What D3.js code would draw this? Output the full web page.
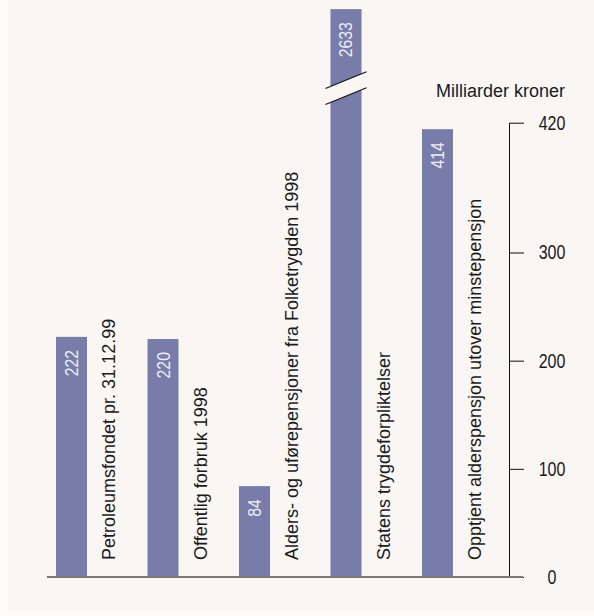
<!DOCTYPE html>
<html>
<head>
<meta charset="utf-8">
<script src="https://cdn.jsdelivr.net/npm/d3@7"></script>
<style>
  html, body { margin: 0; padding: 0; background: #fcfbfa; }
  svg { display: block; }
  .cat { font-family: "Liberation Sans", Arial, sans-serif; font-size: 18px; fill: #1b1b1b; }
  .val { font-family: "Liberation Sans", Arial, sans-serif; font-size: 18px; fill: #eceef5; }
  .tick text { font-family: "Liberation Sans", Arial, sans-serif; font-size: 20px; fill: #1b1b1b; }
  .unit { font-family: "Liberation Sans", Arial, sans-serif; font-size: 18px; fill: #1b1b1b; }
</style>
</head>
<body>
<svg id="chart" width="594" height="616"></svg>
<script>
// Billions of NOK: oil fund vs. public spending and pension obligations
const categories = [
  "Petroleumsfondet pr. 31.12.99",
  "Offentlig forbruk 1998",
  "Alders- og uførepensjoner fra Folketrygden 1998",
  "Statens trygdeforpliktelser",
  "Opptjent alderspensjon utover minstepensjon"
];
const values = [222, 220, 84, 2633, 414];
const tickValues = [0, 100, 200, 300, 420];
const unitLabel = "Milliarder kroner";

// values above this are drawn cut off, with a break marked at breakAt
const clipValue = 525;
const breakAt = 452;

const svg = d3.select("#chart");
const barColor = "#777ca8";
const panelColor = "#f9f6f3";

svg.append("rect")
  .attr("x", 8).attr("y", 0)
  .attr("width", 586).attr("height", 610)
  .attr("fill", panelColor);

const y = d3.scaleLinear().domain([0, 420]).range([577, 122.7]);
const x = d3.scaleBand().domain(categories).range([56, 453])
  .paddingInner(0.661).paddingOuter(0);
const bw = x.bandwidth();

// bars
svg.append("g").selectAll("rect")
  .data(values)
  .join("rect")
  .attr("x", (d, i) => x(categories[i]))
  .attr("y", d => y(Math.min(d, clipValue)))
  .attr("width", bw)
  .attr("height", d => y(0) - y(Math.min(d, clipValue)))
  .attr("fill", barColor);

// break marker on bars that exceed the axis
const broken = values.map((d, i) => ({ d, i })).filter(o => o.d > 420);
const slope = -0.405, half = 8, ext = 20.5;
broken.forEach(o => {
  const cx = x(categories[o.i]) + bw / 2;
  const yb = y(breakAt);
  const g = svg.append("g");
  g.append("path")
    .attr("d", `M${cx - ext},${yb - half - slope * ext} L${cx + ext},${yb - half + slope * ext} L${cx + ext},${yb + half + slope * ext} L${cx - ext},${yb + half - slope * ext} Z`)
    .attr("fill", panelColor);
  [-half, half].forEach(off => {
    g.append("line")
      .attr("x1", cx - ext).attr("y1", yb + off - slope * ext)
      .attr("x2", cx + ext).attr("y2", yb + off + slope * ext)
      .attr("stroke", "#111").attr("stroke-width", 1.1);
  });
});

// value labels inside bars (condensed along the reading direction)
svg.append("g").selectAll("text")
  .data(values)
  .join("text")
  .attr("class", "val")
  .attr("text-anchor", "end")
  .attr("transform", (d, i) =>
    `translate(${x(categories[i]) + bw / 2 + 6.5},${y(Math.min(d, clipValue)) + 13}) rotate(-90) scale(0.88,1)`)
  .text(d => d);

// category labels beside bars
svg.append("g").selectAll("text")
  .data(categories)
  .join("text")
  .attr("class", "cat")
  .attr("text-anchor", "start")
  .attr("transform", c => `translate(${x(c) + bw + 28},${y(0) - 17}) rotate(-90)`)
  .text(c => c);

// right-hand axis
const tickSquash = 0.8;
const axis = svg.append("g")
  .attr("transform", "translate(509,0)")
  .call(d3.axisRight(y).tickValues(tickValues).tickSize(15).tickSizeOuter(0));
axis.select(".domain").attr("stroke", "#111");
axis.selectAll(".tick line").attr("stroke", "#111");
axis.selectAll(".tick text")
  .attr("text-anchor", "middle")
  .attr("x", 43 / tickSquash)
  .attr("transform", `scale(${tickSquash},1)`);

// baseline
svg.append("line")
  .attr("x1", 47).attr("x2", 523)
  .attr("y1", y(0)).attr("y2", y(0))
  .attr("stroke", "#7a7a7a").attr("stroke-width", 2);

svg.append("text")
  .attr("class", "unit")
  .attr("x", 565).attr("y", 97)
  .attr("text-anchor", "end")
  .text(unitLabel);
</script>
</body>
</html>
